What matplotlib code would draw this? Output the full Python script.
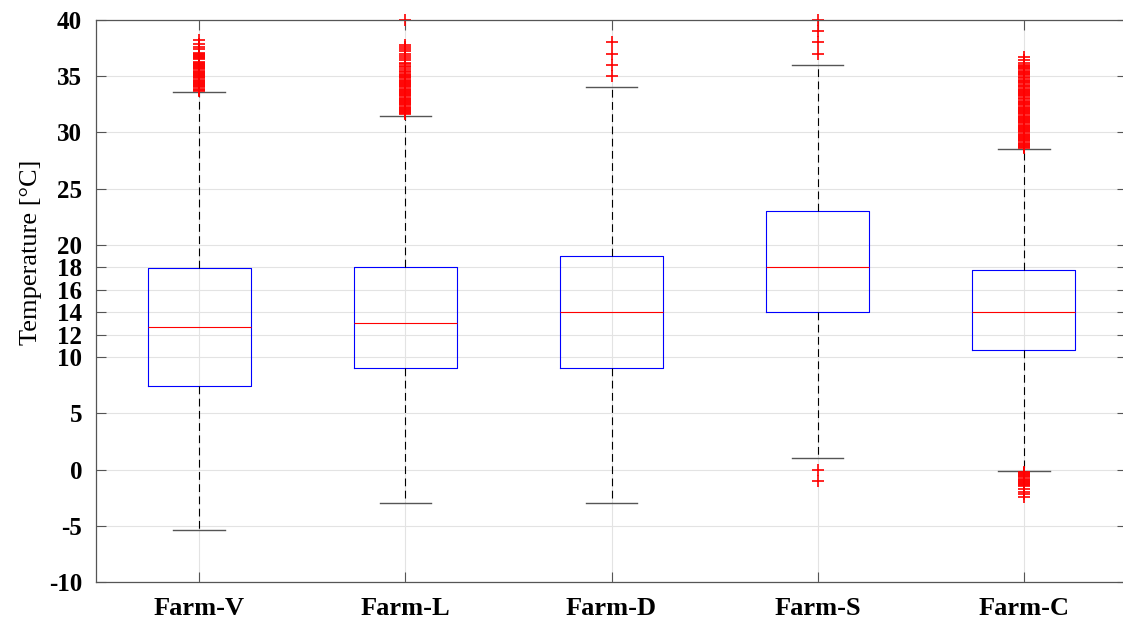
import matplotlib
matplotlib.use("Agg")
import matplotlib.pyplot as plt

# box statistics (deg C)
farms = ["Farm-V", "Farm-L", "Farm-D", "Farm-S", "Farm-C"]
q1 = [7.4, 9.0, 9.0, 14.0, 10.6]
med = [12.7, 13.0, 14.0, 18.0, 14.0]
q3 = [17.9, 18.0, 19.0, 23.0, 17.8]
whis_lo = [-5.4, -3.0, -3.0, 1.0, -0.1]
whis_hi = [33.6, 31.5, 34.0, 36.0, 28.5]

# outliers
out_v = [33.7, 33.8, 33.9, 34.0, 34.1, 34.2, 34.3, 34.4, 34.5, 34.6, 34.7, 34.8,
         34.9, 35.0, 35.1, 35.2, 35.3, 35.4, 35.5, 35.6, 35.7, 35.8, 35.9, 36.0,
         36.1, 36.2, 36.3, 36.5, 36.6, 36.7, 36.8, 36.9, 37.0, 37.1, 37.4, 37.6,
         37.9, 38.2]
out_l = [31.6, 31.7, 31.8, 31.9, 32.0, 32.1, 32.2, 32.3, 32.4, 32.5, 32.6, 32.7,
         32.8, 32.9, 33.0, 33.1, 33.2, 33.3, 33.4, 33.5, 33.6, 33.7, 33.8, 33.9,
         34.0, 34.1, 34.2, 34.3, 34.4, 34.5, 34.6, 34.7, 34.8, 34.9, 35.0, 35.1,
         35.2, 35.4, 35.5, 35.6, 35.8, 35.9, 36.1, 36.2, 36.4, 36.6, 36.8, 37.0,
         37.2, 37.4, 37.6, 37.8, 40.0]
out_d = [35.0, 36.0, 37.0, 38.0]
out_s = [37.0, 38.0, 39.0, 40.0, 0.0, -1.0]
out_c = [28.6, 28.7, 28.8, 28.9, 29.0, 29.1, 29.2, 29.3, 29.4, 29.5, 29.6, 29.7,
         29.8, 29.9, 30.0, 30.1, 30.2, 30.3, 30.4, 30.5, 30.6, 30.7, 30.8, 30.9,
         31.0, 31.1, 31.2, 31.3, 31.4, 31.5, 31.6, 31.7, 31.8, 31.9, 32.0, 32.1,
         32.2, 32.3, 32.4, 32.5, 32.6, 32.7, 32.8, 33.0, 33.1, 33.2, 33.3, 33.4,
         33.5, 33.6, 33.7, 33.8, 33.9, 34.0, 34.1, 34.2, 34.4, 34.5, 34.6, 34.7,
         34.8, 34.9, 35.1, 35.2, 35.3, 35.4, 35.5, 35.6, 35.7, 35.8, 35.9, 36.0,
         36.2, 36.4, 36.7,
         -0.2, -0.3, -0.4, -0.5, -0.6, -0.7, -0.8, -0.9, -1.0, -1.1, -1.2, -1.3,
         -1.4, -1.5, -1.7, -2.0, -2.2, -2.4]
outliers = [out_v, out_l, out_d, out_s, out_c]

yticks = [-10, -5, 0, 5, 10, 12, 14, 16, 18, 20, 25, 30, 35, 40]

plt.rcParams["font.family"] = ["Liberation Serif", "DejaVu Serif"]

fig = plt.figure(figsize=(11.23, 6.21), dpi=100)
ax = fig.add_axes([96 / 1123, 39 / 621, 1031 / 1123, 562 / 621])

stats = []
for i in range(len(farms)):
    stats.append({"label": farms[i], "q1": q1[i], "med": med[i], "q3": q3[i],
                  "whislo": whis_lo[i], "whishi": whis_hi[i],
                  "fliers": outliers[i]})

bp = ax.bxp(stats, positions=range(1, 6), widths=0.5, capwidths=0.25,
            showfliers=True,
            boxprops=dict(color="#0000ff", linewidth=0.8),
            medianprops=dict(color="#ff0000", linewidth=0.8),
            whiskerprops=dict(color="black", linewidth=0.8, linestyle=(0, (7, 4))),
            capprops=dict(color="#555555", linewidth=1.0),
            flierprops=dict(marker="+", markeredgecolor="#ff0000",
                            markersize=8.5, markeredgewidth=1.2, linestyle="none"))
for f in bp["fliers"]:
    f.set_clip_on(False)
for w in bp["whiskers"]:
    w.set_clip_on(False)

ax.set_xlim(0.5, 5.5)
ax.set_ylim(-10, 40)
ax.set_yticks(yticks)
ax.set_yticklabels([str(t) for t in yticks], fontsize=18, fontweight="bold")
ax.set_xticks(range(1, 6))
ax.set_xticklabels(farms, fontsize=19, fontweight="bold")
ax.tick_params(direction="in", length=7, width=0.8, color="#555555",
               top=True, right=True, pad=10)
ax.tick_params(axis="x", pad=11)

ax.grid(True, color="#e3e3e3", linewidth=0.8)
ax.set_axisbelow(True)
for s in ax.spines.values():
    s.set_color("#555555")
    s.set_linewidth(0.9)
ax.spines["right"].set_visible(False)  # falls just past the image edge

ax.set_ylabel("Temperature [\u00b0C]", fontsize=19, labelpad=6)
ax.yaxis.set_label_coords(-0.052, 0.587)

fig.savefig("out.png", dpi=100)
